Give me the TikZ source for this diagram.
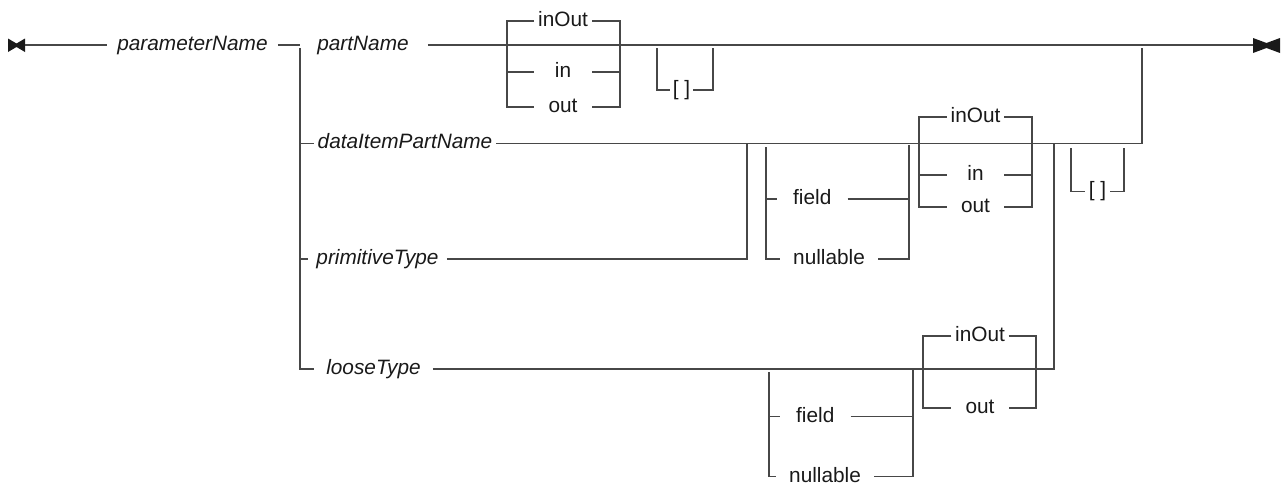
\documentclass[tikz,border=0pt]{standalone}
\usepackage{fontspec}
\setmainfont{Liberation Sans}

\begin{document}
\fontsize{20.8}{24}\selectfont
\begin{tikzpicture}[x=1pt, y=-1pt,
    rail/.style={draw=black!72, line width=1.2pt},
    term/.style={font=\fontsize{20.8}{24}\selectfont, text=black!90, inner ysep=0pt, inner xsep=3pt},
    nterm/.style={term, font=\fontsize{20.8}{24}\selectfont\itshape}]
    \useasboundingbox (0,0) rectangle (1283,485);

    % Start and end markers
    \coordinate (begin) at (25,45);
    \coordinate (finish) at (1253,45);
    \fill[black!90] (8,38.5) -- (16.5,43.5) -- (25,38.5) -- (25,52) -- (16.5,47) -- (8,52) -- cycle;
    \fill[black!90] (1253,38) -- (1266.5,43) -- (1280,38) -- (1280,53) -- (1266.5,48) -- (1253,53) -- cycle;

    % Main line
    \node[nterm, inner xsep=10pt, anchor=mid] (param) at (192.5,45) {parameterName};
    \coordinate (fork) at (300,45);
    \node[nterm, inner xsep=19pt, anchor=mid] (part) at (363,45) {partName};
    \draw[rail] (begin) -- (param.mid west);
    \draw[rail] (param.mid east) -- (fork);
    \draw[rail] (part.mid east) -- (finish);

    % Alternatives below partName
    \node[nterm, inner xsep=4pt, anchor=mid] (data) at (405,143.5) {dataItemPartName};
    \node[nterm, inner xsep=8pt, anchor=mid] (prim) at (377.5,259) {primitiveType};
    \node[nterm, inner xsep=12pt, anchor=mid] (loose) at (373.5,369) {looseType};
    \coordinate (rejoin) at (1142,143.5);
    \coordinate (primjoin) at (747,143.5);
    \coordinate (loosejoin) at (1054,143.5);
    \draw[rail] (fork) ++(0,3) |- (loose.mid west);
    \draw[rail] (fork |- data.mid) -- (data.mid west);
    \draw[rail] (fork |- prim.mid) -- (prim.mid west);
    \draw[rail] (data.mid east) -- (rejoin) -- ++(0,-95.5);
    \draw[rail] (prim.mid east) -| (primjoin);
    \draw[rail] (loose.mid east) -| (loosejoin);

    % inOut / in / out after partName
    \coordinate (aL) at (507,45);
    \coordinate (aR) at (620,45);
    \node[term, minimum width=58pt, anchor=mid] (inoutA) at (563,21) {inOut};
    \node[term, minimum width=58pt, anchor=mid] (inA) at (563,72) {in};
    \node[term, minimum width=58pt, anchor=mid] (outA) at (563,107) {out};
    \draw[rail] (inoutA.mid west) -| (aL |- outA.mid) -- (outA.mid west);
    \draw[rail] (inoutA.mid east) -| (aR |- outA.mid) -- (outA.mid east);
    \draw[rail] (aL |- inA.mid) -- (inA.mid west);
    \draw[rail] (inA.mid east) -- (aR |- inA.mid);

    % optional brackets
    \coordinate (bL) at (657,48);
    \coordinate (bR) at (713,48);
    \node[term, minimum width=23pt, inner xsep=0pt, anchor=mid] (arrA) at (681.5,90) {[ ]};
    \draw[rail] (bL) |- (arrA.mid west);
    \draw[rail] (bR) |- (arrA.mid east);

    % field / nullable on the second row
    \coordinate (cL) at (766,147);
    \coordinate (cR) at (909,145);
    \node[term, inner xsep=16pt, anchor=mid west] (fieldB) at (777,199) {field};
    \node[term, inner xsep=13pt, anchor=mid west] (nullB) at (780,259) {nullable};
    \draw[rail] (cL) |- (nullB.mid west);
    \draw[rail] (cL |- fieldB.mid) -- (fieldB.mid west);
    \draw[rail] (cR) |- (nullB.mid east);
    \draw[rail] (fieldB.mid east) -- (cR |- fieldB.mid);

    % inOut / in / out on the second row
    \coordinate (dL) at (919,143.5);
    \coordinate (dR) at (1032,143.5);
    \node[term, minimum width=57pt, anchor=mid] (inoutB) at (975.5,117) {inOut};
    \node[term, minimum width=57pt, anchor=mid] (inB) at (975.5,175) {in};
    \node[term, minimum width=57pt, anchor=mid] (outB) at (975.5,207) {out};
    \draw[rail] (inoutB.mid west) -| (dL |- outB.mid) -- (outB.mid west);
    \draw[rail] (inoutB.mid east) -| (dR |- outB.mid) -- (outB.mid east);
    \draw[rail] (dL |- inB.mid) -- (inB.mid west);
    \draw[rail] (inB.mid east) -- (dR |- inB.mid);

    \coordinate (eL) at (1071,148);
    \coordinate (eR) at (1124,148);
    \node[term, minimum width=25pt, inner xsep=0pt, anchor=mid] (arrB) at (1097.5,191.5) {[ ]};
    \draw[rail] (eL) |- (arrB.mid west);
    \draw[rail] (eR) |- (arrB.mid east);

    % field / nullable after looseType
    \coordinate (fL) at (769,372);
    \coordinate (fR) at (913,369);
    \node[term, inner xsep=16pt, anchor=mid west] (fieldC) at (780,416.5) {field};
    \node[term, inner xsep=13pt, anchor=mid west] (nullC) at (776,476.5) {nullable};
    \draw[rail] (fL) |- (nullC.mid west);
    \draw[rail] (fL |- fieldC.mid) -- (fieldC.mid west);
    \draw[rail] (fR) |- (nullC.mid east);
    \draw[rail] (fieldC.mid east) -- (fR |- fieldC.mid);

    % inOut / out after looseType
    \coordinate (gL) at (923,369);
    \coordinate (gR) at (1036,369);
    \node[term, minimum width=57pt, anchor=mid] (inoutC) at (980,336) {inOut};
    \node[term, minimum width=57pt, anchor=mid] (outC) at (980,408) {out};
    \draw[rail] (inoutC.mid west) -| (gL |- outC.mid) -- (outC.mid west);
    \draw[rail] (inoutC.mid east) -| (gR |- outC.mid) -- (outC.mid east);
\end{tikzpicture}
\end{document}
